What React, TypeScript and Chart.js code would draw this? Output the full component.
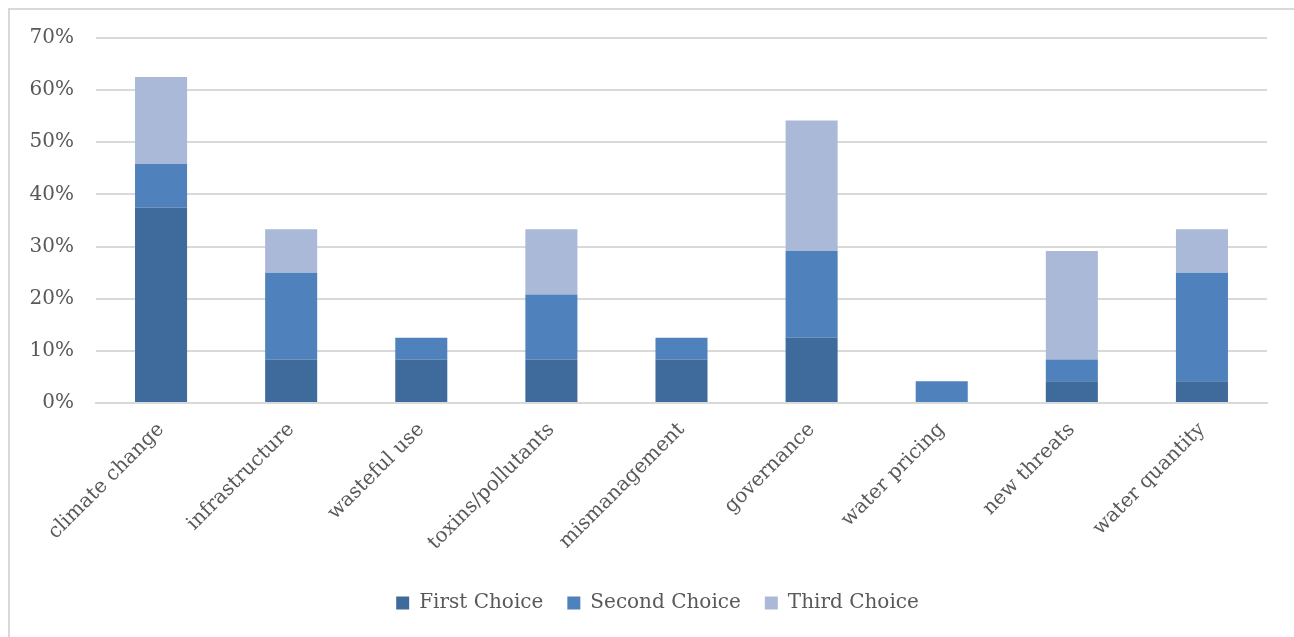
import React, { useEffect, useRef } from "react";
import { Chart, registerables } from "chart.js";

Chart.register(...registerables);

const categories = [
  "climate change",
  "infrastructure",
  "wasteful use",
  "toxins/pollutants",
  "mismanagement",
  "governance",
  "water pricing",
  "new threats",
  "water quantity",
];

// Share of respondents (%) per rank
const firstChoice = [37.5, 8.33, 8.33, 8.33, 8.33, 12.5, 0, 4.17, 4.17];
const secondChoice = [8.33, 16.67, 4.17, 12.5, 4.17, 16.67, 4.17, 4.17, 20.83];
const thirdChoice = [16.67, 8.33, 0, 12.5, 0, 25, 0, 20.83, 8.33];

const seriesNames = ["First Choice", "Second Choice", "Third Choice"];
const seriesColors = ["#3f6a9c", "#4f81bd", "#aab9d7"];

const yMax = 70;
const yStep = 10;

const FONT = "'DejaVu Serif', serif";
const TEXT = "#595959";
const GRID = "#d9d9d9";

// Centre the legend under the whole frame rather than the plot area
const legendShift = {
  id: "legendShift",
  afterLayout(chart: any) {
    const lg = chart.legend;
    if (!lg) return;
    lg.left += 19;
    lg.right += 19;
  },
};

export default function App() {
  const ref = useRef<HTMLCanvasElement | null>(null);

  useEffect(() => {
    document.documentElement.style.overflow = "hidden";
    document.body.style.overflow = "hidden";
    if (!ref.current) return;
    const values = [firstChoice, secondChoice, thirdChoice];
    const chart = new Chart(ref.current, {
      type: "bar",
      data: {
        labels: categories,
        datasets: values.map((v, i) => ({
          label: seriesNames[i],
          data: v,
          backgroundColor: seriesColors[i],
          borderWidth: 0,
          categoryPercentage: 1,
          barPercentage: 0.4,
        })),
      },
      plugins: [legendShift],
      options: {
        animation: false,
        responsive: false,
        maintainAspectRatio: false,
        layout: { padding: { top: 28, right: 27, left: 0, bottom: 14 } },
        plugins: {
          tooltip: { enabled: false },
          legend: {
            position: "bottom",
            labels: {
              font: { family: FONT, size: 20 },
              color: TEXT,
              boxWidth: 13,
              boxHeight: 13,
              padding: 24,
            },
          },
        },
        scales: {
          x: {
            stacked: true,
            grid: { display: false, drawTicks: false },
            border: { color: GRID, width: 2 },
            ticks: {
              font: { family: FONT, size: 20 },
              color: TEXT,
              maxRotation: 45,
              minRotation: 45,
              padding: 15,
              autoSkip: false,
            },
            afterFit: (s: any) => {
              s.height = 166;
            },
          },
          y: {
            stacked: true,
            min: 0,
            max: yMax,
            grid: {
              color: GRID,
              lineWidth: 2,
              drawTicks: true,
              tickLength: 22,
              tickColor: "rgba(0,0,0,0)",
            },
            border: { display: false },
            ticks: {
              stepSize: yStep,
              font: { family: FONT, size: 20 },
              color: TEXT,
              padding: 0,
              callback: (v: any) => `${v}%`,
            },
            afterFit: (s: any) => {
              s.width = 86;
            },
          },
        },
      },
    });
    return () => chart.destroy();
  }, []);

  return (
    <div
      style={{
        position: "fixed",
        left: 8,
        top: 8,
        width: 1286,
        height: 629,
        borderTop: "2px solid #d9d9d9",
        borderLeft: "2px solid #d9d9d9",
        boxSizing: "border-box",
        background: "#fff",
        overflow: "hidden",
      }}
    >
      <canvas ref={ref} width={1284} height={627} style={{ display: "block" }} />
    </div>
  );
}
